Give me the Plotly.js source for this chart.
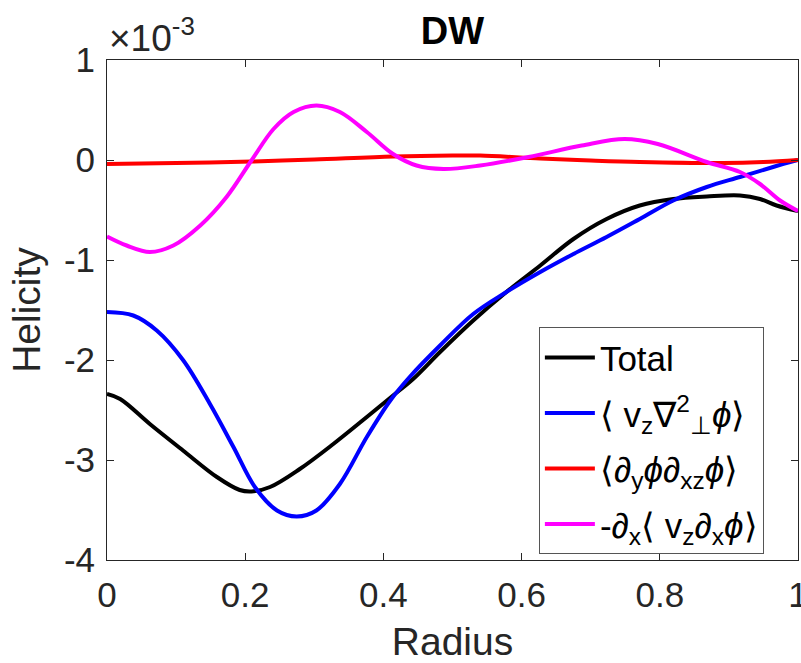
<!DOCTYPE html>
<html>
<head>
<meta charset="utf-8">
<script src="https://cdn.plot.ly/plotly-3.0.1.min.js"></script>
<style>
  html, body { margin: 0; padding: 0; background: #ffffff; }
  #chart { width: 801px; height: 663px; }
</style>
</head>
<body>
<div id="chart"></div>
<script>
// Helicity profiles across the radius (values in units of 1e-3)
const totalRadius = [0, 0.019, 0.062, 0.11, 0.159, 0.192, 0.209, 0.236, 0.279, 0.3275, 0.376, 0.414, 0.443, 0.482, 0.53, 0.578, 0.627, 0.675, 0.723, 0.771, 0.8195, 0.868, 0.916, 0.945, 0.969, 1.0];
const totalHelicity = [-2.34, -2.39, -2.64, -2.905, -3.17, -3.30, -3.315, -3.27, -3.09, -2.84, -2.57, -2.355, -2.19, -1.92, -1.605, -1.32, -1.055, -0.79, -0.59, -0.455, -0.39, -0.365, -0.355, -0.39, -0.455, -0.51];

const laplRadius = [0, 0.038, 0.072, 0.11, 0.149, 0.183, 0.214, 0.246, 0.2745, 0.303, 0.337, 0.376, 0.41, 0.438, 0.482, 0.53, 0.578, 0.627, 0.675, 0.723, 0.771, 0.8195, 0.868, 0.916, 0.964, 1.0];
const laplHelicity = [-1.52, -1.555, -1.705, -2.0, -2.44, -2.87, -3.27, -3.505, -3.565, -3.505, -3.24, -2.77, -2.405, -2.17, -1.855, -1.54, -1.32, -1.12, -0.94, -0.77, -0.59, -0.405, -0.27, -0.17, -0.07, 0.0];

const crossRadius = [0, 0.1, 0.21, 0.3, 0.414, 0.5, 0.54, 0.627, 0.7, 0.771, 0.892, 0.95, 1.0];
const crossHelicity = [-0.04, -0.03, -0.015, 0.005, 0.035, 0.045, 0.045, 0.015, -0.005, -0.02, -0.03, -0.02, 0.0];

const fluxRadius = [0, 0.0285, 0.062, 0.096, 0.135, 0.173, 0.209, 0.241, 0.27, 0.303, 0.337, 0.376, 0.414, 0.448, 0.487, 0.54, 0.61, 0.687, 0.749, 0.797, 0.868, 0.916, 0.945, 0.974, 1.0];
const fluxHelicity = [-0.765, -0.855, -0.92, -0.855, -0.655, -0.37, -0.005, 0.31, 0.48, 0.545, 0.48, 0.28, 0.06, -0.055, -0.09, -0.055, 0.03, 0.145, 0.21, 0.16, -0.02, -0.12, -0.24, -0.405, -0.51];

const seriesNames = [
  'Total',
  '\u27E8 v<sub>z</sub>\u2207<sup>2</sup><sub>\u22A5</sub><i>\u03D5</i>\u27E9',
  '\u27E8<i>\u2202</i><sub>y</sub><i>\u03D5\u2202</i><sub>xz</sub><i>\u03D5</i>\u27E9',
  '-<i>\u2202</i><sub>x</sub>\u27E8 v<sub>z</sub><i>\u2202</i><sub>x</sub><i>\u03D5</i>\u27E9'
];
const seriesColors = ['#000000', '#0000ff', '#ff0000', '#ff00ff'];

const xTicks = [0, 0.2, 0.4, 0.6, 0.8, 1];
const xTickText = ['0', '0.2', '0.4', '0.6', '0.8', '1'];
const yTicks = [-4, -3, -2, -1, 0, 1];
const yTickText = ['-4', '-3', '-2', '-1', '0', '1'];

const xs = [totalRadius, laplRadius, crossRadius, fluxRadius];
const ys = [totalHelicity, laplHelicity, crossHelicity, fluxHelicity];

const traces = xs.map((x, i) => ({
  x: x,
  y: ys[i],
  type: 'scatter',
  mode: 'lines',
  name: seriesNames[i],
  legendgroup: 'g' + i,
  line: { color: seriesColors[i], width: 4, shape: 'spline', smoothing: 1 }
}));

const axisColor = '#262626';
const font = 'Liberation Sans, Arial, Helvetica, sans-serif';

const layout = {
  width: 801,
  height: 663,
  margin: { l: 107, r: 3, t: 60, b: 103, pad: 0 },
  paper_bgcolor: '#ffffff',
  plot_bgcolor: '#ffffff',
  font: { family: font, color: axisColor },
  title: {
    text: '<b>DW</b>',
    font: { family: font, size: 38, color: '#000000' },
    x: 0.5, xref: 'paper', xanchor: 'center',
    y: 0.953, yref: 'container', yanchor: 'middle'
  },
  xaxis: {
    range: [0, 1],
    tickvals: xTicks,
    ticktext: xTickText,
    ticks: 'inside',
    ticklen: 7,
    tickcolor: axisColor,
    tickfont: { family: font, size: 35, color: axisColor },
    ticklabelstandoff: 4,
    ticklabeloverflow: 'allow',
    showline: true,
    linecolor: axisColor,
    linewidth: 1,
    mirror: 'ticks',
    showgrid: false,
    zeroline: false,
    title: { text: 'Radius', font: { family: font, size: 39, color: axisColor }, standoff: 25 }
  },
  yaxis: {
    range: [-4, 1],
    tickvals: yTicks,
    ticktext: yTickText,
    ticks: 'inside',
    ticklen: 7,
    tickcolor: axisColor,
    tickfont: { family: font, size: 35, color: axisColor },
    ticklabelstandoff: 4,
    showline: true,
    linecolor: axisColor,
    linewidth: 1,
    mirror: 'ticks',
    showgrid: false,
    zeroline: false,
    title: { text: 'Helicity', font: { family: font, size: 39, color: axisColor }, standoff: 11 }
  },
  legend: {
    x: 0.625, y: 0.4656, xanchor: 'left', yanchor: 'top',
    xref: 'paper', yref: 'paper',
    bgcolor: '#ffffff',
    bordercolor: '#555555',
    borderwidth: 1,
    traceorder: 'grouped',
    tracegroupgap: 7,
    itemwidth: 50,
    font: { family: font, size: 35, color: '#000000' }
  },
  annotations: [{
    text: '\u00D710<sup>-3</sup>',
    xref: 'paper', yref: 'paper',
    x: 0, y: 0.998, xanchor: 'left', yanchor: 'bottom',
    showarrow: false,
    font: { family: font, size: 37, color: axisColor }
  }],
  showlegend: true
};

Plotly.newPlot('chart', traces, layout, { displayModeBar: false, staticPlot: true });
</script>
</body>
</html>
